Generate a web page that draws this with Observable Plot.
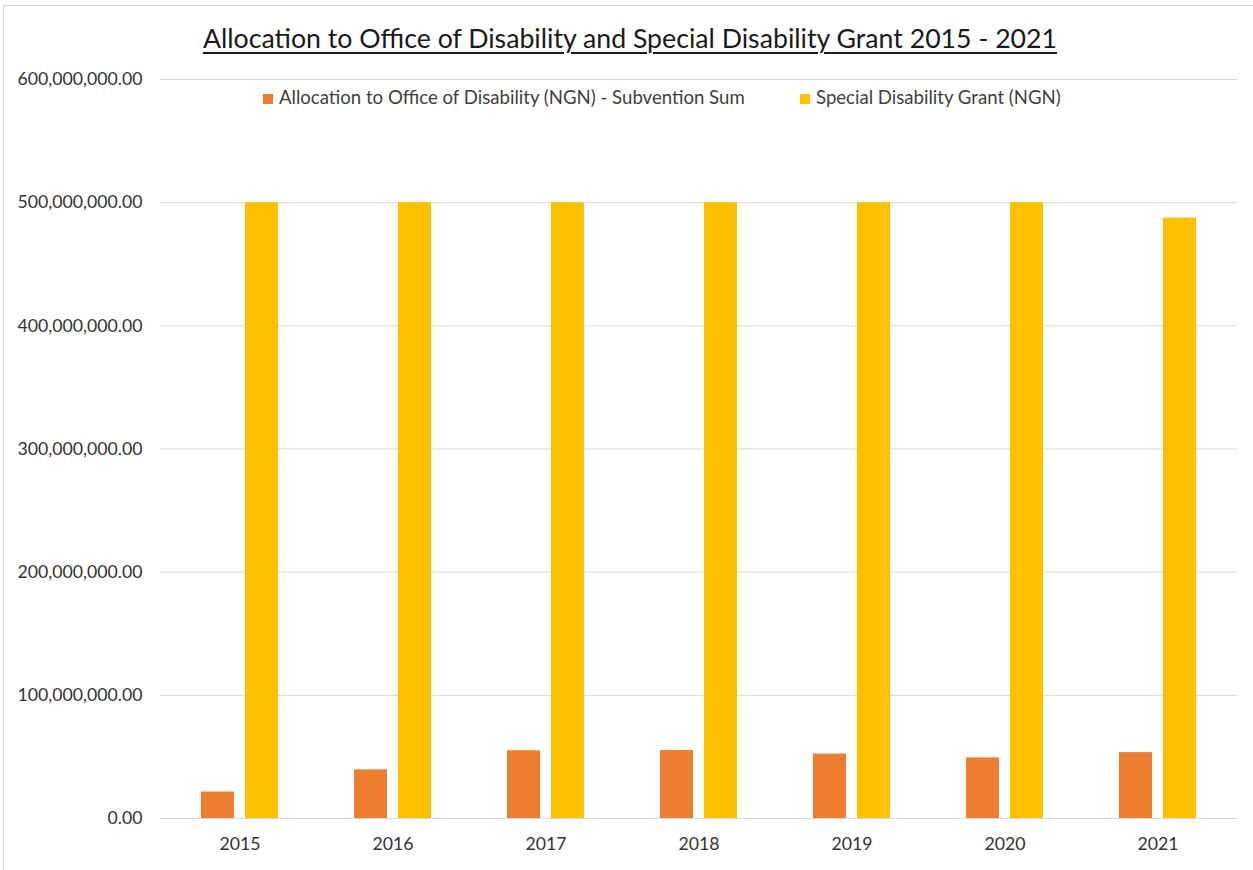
<!DOCTYPE html>
<html>
<head>
<meta charset="utf-8">
<script src="https://cdn.jsdelivr.net/npm/d3@7"></script>
<script src="https://cdn.jsdelivr.net/npm/@observablehq/plot@0.6"></script>
<style>
  html, body { margin: 0; padding: 0; background: #fff; }
  #wrap { position: relative; width: 1253px; height: 870px; overflow: hidden; font-family: Lato, "Open Sans", sans-serif; }
  #frame { position: absolute; left: 3px; top: 5px; width: 1260px; height: 880px; border-left: 1px solid #d9d9d9; border-top: 1px solid #d9d9d9; }
  #title { position: absolute; left: 0; width: 1260px; top: 22px; text-align: center; font-size: 26.7px; color: #1a1a1a; text-decoration: underline; text-decoration-thickness: 2px; text-underline-offset: 4px; }
  .leg { position: absolute; top: 86px; font-size: 18.6px; color: #404040; white-space: nowrap; }
  .sw { display: inline-block; width: 10px; height: 10px; margin-right: 6px; vertical-align: 0px; }
  #chart { position: absolute; left: 0; top: 0; }
</style>
</head>
<body>
<div id="wrap">
  <div id="frame"></div>
  <div id="chart"></div>
  <div id="title">Allocation to Office of Disability and Special Disability Grant 2015 - 2021</div>
  <div class="leg" id="leg1" style="left:263px"><span class="sw" style="background:#ED7D31"></span>Allocation to Office of Disability (NGN) - Subvention Sum</div>
  <div class="leg" id="leg2" style="left:800px"><span class="sw" style="background:#FFC000"></span>Special Disability Grant (NGN)</div>
</div>
<script>
const years = ["2015", "2016", "2017", "2018", "2019", "2020", "2021"];
const officeAllocation = [21500000, 39500000, 55000000, 55200000, 52300000, 49200000, 53500000];
const specialGrant = [500000000, 500000000, 500000000, 500000000, 500000000, 500000000, 487500000];
const yTicks = [0, 100000000, 200000000, 300000000, 400000000, 500000000, 600000000];
const seriesNames = ["Allocation to Office of Disability (NGN) - Subvention Sum", "Special Disability Grant (NGN)"];
const seriesColors = ["#ED7D31", "#FFC000"];

const officeRows = years.map((y, i) => ({year: y, value: officeAllocation[i]}));
const grantRows = years.map((y, i) => ({year: y, value: specialGrant[i]}));

const chart = Plot.plot({
  width: 1253,
  height: 870,
  marginLeft: 160,
  marginRight: 16,
  marginTop: 79,
  marginBottom: 52,
  style: {fontFamily: "Lato, 'Open Sans', sans-serif", fontSize: "17.7px", color: "#333333", background: "transparent"},
  x: {type: "band", domain: years, paddingInner: 0, paddingOuter: 0, tickSize: 0, tickPadding: 19, label: null},
  y: {domain: [0, 600000000], ticks: yTicks, tickFormat: d3.format(",.2f"), tickSize: 0, tickPadding: 18, label: null},
  marks: [
    Plot.ruleY(yTicks, {stroke: "#d9d9d9", strokeWidth: 1}),
    Plot.barY(officeRows, {x: "year", y: "value", fill: seriesColors[0], insetLeft: 38, insetRight: 82}),
    Plot.barY(grantRows, {x: "year", y: "value", fill: seriesColors[1], insetLeft: 82, insetRight: 38})
  ]
});
document.getElementById("chart").appendChild(chart);
</script>
</body>
</html>
